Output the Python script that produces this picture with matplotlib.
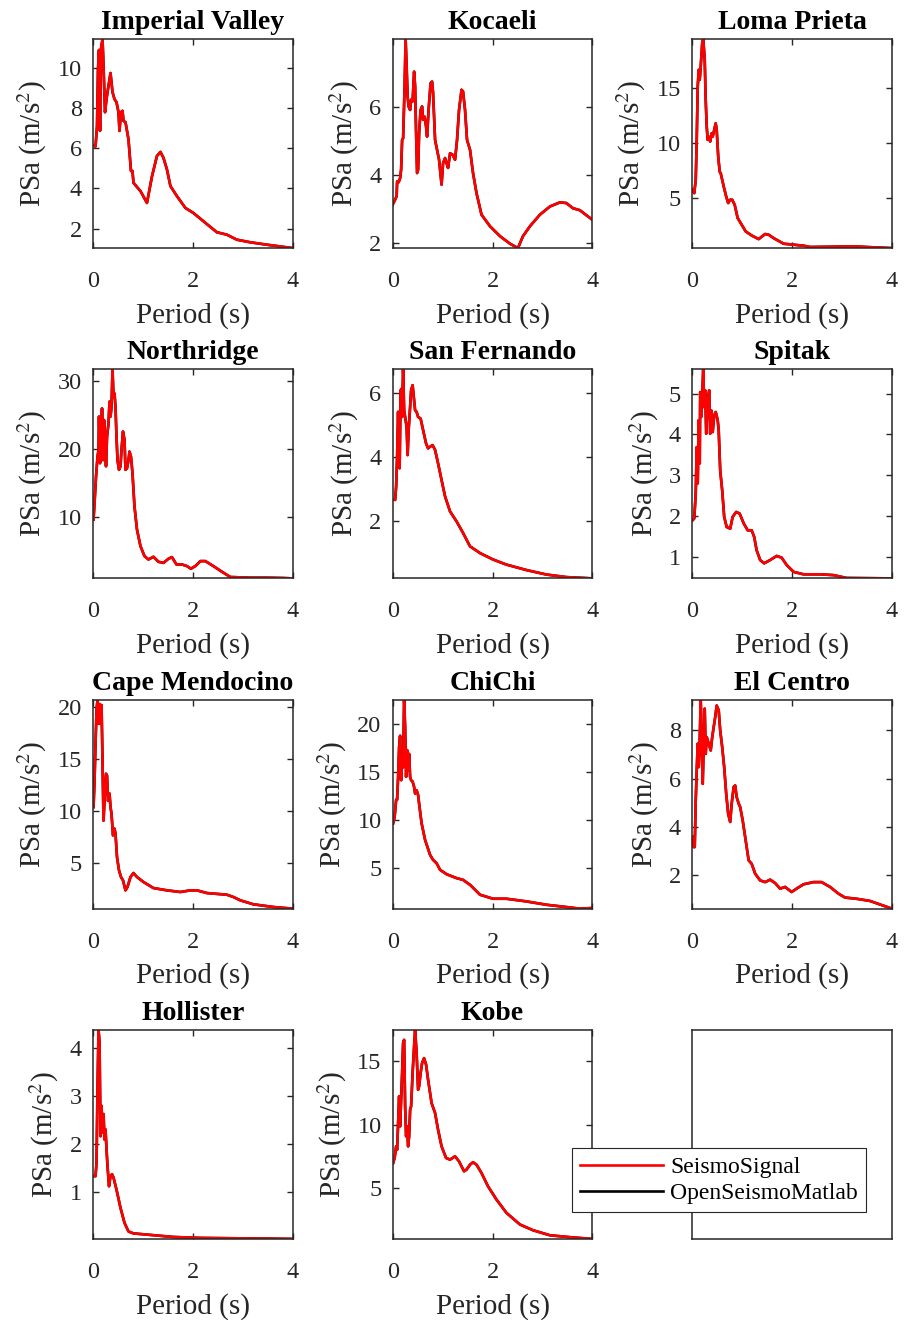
"""
Pseudo-acceleration response spectra: SeismoSignal vs OpenSeismoMatlab
for eleven recorded ground motions.
"""
import matplotlib
matplotlib.use("Agg")
import matplotlib.pyplot as plt

# ---- data (period in s, PSa in m/s^2) -------------------------------------
imperial_T = [0.01, 0.05, 0.08, 0.10, 0.12, 0.14, 0.16, 0.19, 0.21, 0.24, 0.27, 0.29, 0.35, 0.39, 0.43,
              0.47, 0.51, 0.53, 0.56, 0.59, 0.61, 0.65, 0.71, 0.76, 0.79, 0.81, 0.95, 1.08, 1.18, 1.28,
              1.35, 1.41, 1.48, 1.55, 1.68, 1.85, 2.01, 2.21, 2.48, 2.68, 2.88, 3.15, 3.48, 4.00]
imperial_psa = [6.12, 6.10, 7.10, 9.95, 10.9, 6.87, 10.95, 11.45, 10.1, 7.8, 8.45, 8.8, 9.75, 8.8, 8.45,
                8.3, 7.8, 6.87, 7.8, 7.87, 7.37, 7.3, 6.45, 4.87, 4.87, 4.28, 3.87, 3.28, 4.6, 5.62,
                5.82, 5.53, 4.95, 4.12, 3.62, 3.03, 2.78, 2.37, 1.82, 1.7, 1.45, 1.32, 1.2, 1.03]

kocaeli_T = [0.0, 0.05, 0.08, 0.09, 0.12, 0.15, 0.17, 0.19, 0.21, 0.24, 0.26, 0.28, 0.30, 0.32, 0.35,
             0.37, 0.40, 0.43, 0.45, 0.47, 0.49, 0.51, 0.53, 0.56, 0.59, 0.61, 0.64, 0.67, 0.69, 0.72,
             0.76, 0.79, 0.81, 0.85, 0.89, 0.93, 0.98, 1.01, 1.05, 1.08, 1.11, 1.15, 1.20, 1.25, 1.29,
             1.33, 1.38, 1.41, 1.45, 1.49, 1.55, 1.61, 1.68, 1.78, 1.95, 2.15, 2.35, 2.51, 2.61, 2.75,
             2.95, 3.15, 3.35, 3.48, 3.61, 3.75, 4.0]
kocaeli_psa = [3.12, 3.27, 3.37, 3.8, 3.78, 3.9, 4.15, 5.02, 5.07, 6.59, 7.98, 7.17, 6.29, 6.0, 5.9,
               6.2, 6.15, 7.02, 6.59, 5.22, 4.05, 4.15, 5.22, 5.9, 6.0, 5.61, 5.7, 5.41, 5.12, 5.9,
               6.68, 6.73, 6.39, 5.02, 4.73, 4.44, 3.71, 4.34, 4.49, 4.34, 4.2, 4.63, 4.59, 4.44, 5.02,
               5.9, 6.49, 6.44, 5.9, 5.02, 4.73, 4.05, 3.46, 2.83, 2.49, 2.2, 1.98, 1.85, 2.2, 2.49,
               2.83, 3.07, 3.19, 3.17, 3.02, 2.96, 2.68]

loma_T = [0.0, 0.04, 0.07, 0.09, 0.11, 0.13, 0.15, 0.17, 0.20, 0.22, 0.25, 0.27, 0.29, 0.31, 0.33,
          0.36, 0.39, 0.41, 0.44, 0.47, 0.49, 0.52, 0.55, 0.57, 0.63, 0.68, 0.72, 0.76, 0.80, 0.85,
          0.91, 0.97, 1.07, 1.19, 1.33, 1.46, 1.53, 1.63, 1.83, 2.03, 2.23, 2.36, 2.83, 3.23, 3.63, 4.0]
loma_psa = [5.76, 5.45, 6.67, 10.3, 15.15, 16.67, 15.76, 16.97, 19.1, 19.48, 17.6, 13.9, 11.5, 10.3, 10.6,
            10.15, 10.9, 10.6, 11.2, 11.8, 11.2, 8.8, 7.4, 7.27, 6.06, 5.15, 4.55, 4.85, 4.85, 4.39,
            3.18, 2.73, 1.97, 1.6, 1.27, 1.73, 1.67, 1.36, 0.85, 0.76, 0.67, 0.55, 0.58, 0.61, 0.52, 0.45]

northridge_T = [0.01, 0.03, 0.06, 0.09, 0.11, 0.12, 0.14, 0.16, 0.18, 0.20, 0.22, 0.24, 0.26, 0.28, 0.31,
                0.33, 0.35, 0.37, 0.39, 0.41, 0.43, 0.45, 0.47, 0.49, 0.52, 0.55, 0.57, 0.60, 0.63, 0.65,
                0.68, 0.71, 0.73, 0.76, 0.79, 0.83, 0.88, 0.95, 1.03, 1.11, 1.21, 1.31, 1.41, 1.51, 1.58,
                1.67, 1.78, 1.88, 1.96, 2.05, 2.15, 2.25, 2.41, 2.58, 2.75, 3.15, 3.48, 3.81, 4.0]
northridge_psa = [9.66, 12.1, 16.0, 18.9, 19.9, 24.8, 17.95, 19.9, 26.0, 18.4, 24.3, 21.4, 17.5, 21.85, 23.8,
                  27.0, 24.8, 26.2, 31.76, 27.7, 28.2, 26.2, 21.85, 18.4, 16.98, 17.5, 19.9, 22.6, 21.4, 16.98,
                  17.2, 18.4, 19.65, 18.9, 16.5, 11.6, 8.2, 5.76, 4.3, 3.8, 4.2, 3.46, 3.3, 3.9, 4.15,
                  3.07, 3.07, 2.83, 2.44, 2.83, 3.56, 3.56, 2.83, 2.0, 1.22, 1.12, 1.12, 1.07, 1.02]

sanfernando_T = [0.01, 0.05, 0.07, 0.09, 0.11, 0.13, 0.14, 0.16, 0.18, 0.19, 0.21, 0.23, 0.26, 0.28, 0.30,
                 0.32, 0.35, 0.37, 0.40, 0.43, 0.45, 0.48, 0.51, 0.56, 0.61, 0.67, 0.71, 0.75, 0.80, 0.85,
                 0.91, 0.98, 1.05, 1.15, 1.28, 1.41, 1.55, 1.75, 2.01, 2.28, 2.68, 3.08, 3.48, 4.0]
sanfernando_psa = [2.67, 2.65, 3.07, 4.0, 5.4, 3.69, 3.64, 6.07, 6.12, 5.24, 6.73, 5.45, 5.14, 4.93, 4.05,
                   4.83, 5.55, 6.07, 6.23, 5.76, 5.45, 5.4, 5.24, 5.19, 4.83, 4.41, 4.26, 4.31, 4.36, 4.21,
                   3.79, 3.27, 2.76, 2.29, 1.98, 1.62, 1.2, 0.99, 0.79, 0.63, 0.46, 0.32, 0.24, 0.2]

spitak_T = [0.01, 0.04, 0.07, 0.09, 0.11, 0.13, 0.15, 0.16, 0.18, 0.20, 0.22, 0.24, 0.26, 0.28, 0.30,
            0.32, 0.34, 0.36, 0.38, 0.41, 0.44, 0.47, 0.51, 0.53, 0.56, 0.60, 0.64, 0.69, 0.76, 0.81,
            0.88, 0.95, 1.03, 1.11, 1.19, 1.24, 1.29, 1.36, 1.44, 1.56, 1.69, 1.79, 1.89, 2.03, 2.23,
            2.56, 2.83, 3.09, 4.0]
spitak_psa = [1.9, 1.94, 2.55, 3.69, 2.8, 4.35, 3.29, 5.04, 4.43, 4.92, 5.6, 4.67, 5.08, 4.02, 4.59,
              4.92, 5.08, 4.02, 4.59, 4.06, 4.47, 4.55, 4.35, 4.1, 3.12, 2.63, 1.98, 1.73, 1.69, 1.98,
              2.1, 2.06, 1.82, 1.65, 1.65, 1.49, 1.16, 0.92, 0.84, 0.92, 1.02, 0.98, 0.8, 0.63, 0.57,
              0.57, 0.55, 0.48, 0.47]

mendocino_T = [0.01, 0.03, 0.05, 0.07, 0.09, 0.11, 0.13, 0.15, 0.17, 0.19, 0.21, 0.23, 0.26, 0.28, 0.30,
               0.33, 0.35, 0.37, 0.40, 0.43, 0.45, 0.48, 0.52, 0.56, 0.60, 0.65, 0.69, 0.75, 0.81, 0.88,
               1.01, 1.21, 1.48, 1.75, 1.95, 2.08, 2.28, 2.68, 2.81, 2.95, 3.21, 3.61, 4.0]
mendocino_psa = [10.4, 12.96, 16.5, 19.7, 20.73, 18.4, 20.3, 18.4, 20.2, 14.9, 9.1, 11.0, 13.6, 13.44, 11.0,
                 11.7, 10.4, 9.76, 7.69, 8.33, 7.85, 5.6, 4.33, 3.69, 3.37, 2.41, 2.73, 3.69, 4.07, 3.69,
                 3.21, 2.63, 2.41, 2.25, 2.41, 2.41, 2.15, 1.99, 1.77, 1.45, 1.07, 0.81, 0.65]

chichi_T = [0.01, 0.04, 0.07, 0.09, 0.11, 0.13, 0.15, 0.17, 0.19, 0.21, 0.23, 0.25, 0.27, 0.29, 0.31,
            0.33, 0.35, 0.37, 0.40, 0.43, 0.45, 0.48, 0.51, 0.53, 0.58, 0.65, 0.75, 0.81, 0.88, 0.95,
            1.08, 1.28, 1.41, 1.55, 1.75, 2.01, 2.28, 2.68, 3.08, 3.48, 3.75, 4.0]
chichi_psa = [9.63, 10.3, 12.1, 12.1, 14.5, 17.6, 18.8, 14.15, 16.2, 15.5, 22.6, 19.7, 14.5, 17.3, 15.2,
              16.9, 14.5, 14.15, 14.0, 13.45, 12.75, 13.1, 12.6, 11.7, 9.63, 7.89, 6.32, 5.8, 5.45, 4.76,
              4.3, 3.89, 3.71, 3.19, 2.15, 1.73, 1.73, 1.45, 1.1, 0.86, 0.69, 0.76]

elcentro_T = [0.01, 0.03, 0.05, 0.07, 0.09, 0.11, 0.13, 0.15, 0.17, 0.19, 0.21, 0.23, 0.25, 0.27, 0.29,
              0.32, 0.35, 0.37, 0.40, 0.43, 0.46, 0.49, 0.53, 0.56, 0.60, 0.64, 0.68, 0.72, 0.76, 0.79,
              0.83, 0.86, 0.89, 0.93, 0.96, 1.01, 1.07, 1.13, 1.19, 1.26, 1.36, 1.46, 1.56, 1.66, 1.76,
              1.86, 1.99, 2.09, 2.23, 2.43, 2.59, 2.76, 2.93, 3.06, 3.29, 3.56, 4.0]
elcentro_psa = [3.59, 3.17, 3.17, 5.1, 6.34, 7.45, 6.48, 7.59, 9.28, 7.59, 5.79, 7.45, 8.9, 7.03, 7.72,
                7.52, 7.31, 7.17, 7.72, 8.14, 8.55, 9.03, 8.83, 8.0, 7.31, 6.48, 5.38, 4.55, 4.21, 4.97,
                5.66, 5.72, 5.24, 4.97, 4.83, 4.28, 3.45, 2.62, 2.48, 2.07, 1.79, 1.72, 1.82, 1.68, 1.45,
                1.52, 1.31, 1.45, 1.63, 1.72, 1.72, 1.52, 1.24, 1.08, 1.03, 0.94, 0.62]

hollister_T = [0.01, 0.05, 0.07, 0.09, 0.11, 0.13, 0.15, 0.17, 0.19, 0.21, 0.23, 0.25, 0.27, 0.29, 0.32,
               0.35, 0.38, 0.41, 0.47, 0.55, 0.63, 0.71, 0.81, 1.08, 1.35, 1.61, 2.15, 2.81, 3.48, 4.0]
hollister_psa = [1.34, 1.34, 1.62, 3.15, 4.38, 4.12, 2.17, 2.8, 2.24, 2.63, 2.1, 2.31, 1.9, 1.55, 1.13,
                 1.34, 1.38, 1.31, 1.06, 0.68, 0.37, 0.19, 0.15, 0.125, 0.1, 0.076, 0.056, 0.049, 0.042, 0.035]

kobe_T = [0.01, 0.04, 0.07, 0.09, 0.11, 0.13, 0.15, 0.17, 0.19, 0.21, 0.23, 0.25, 0.27, 0.29, 0.31,
          0.33, 0.35, 0.37, 0.40, 0.43, 0.45, 0.48, 0.51, 0.53, 0.56, 0.59, 0.63, 0.67, 0.71, 0.78,
          0.85, 0.91, 0.98, 1.07, 1.15, 1.25, 1.33, 1.43, 1.48, 1.55, 1.61, 1.68, 1.78, 1.91, 2.08,
          2.28, 2.55, 2.81, 3.15, 3.55, 4.0]
kobe_psa = [6.97, 7.37, 8.29, 8.03, 10.13, 12.24, 9.87, 11.97, 14.08, 16.45, 16.7, 11.45, 9.08, 9.87, 8.29,
            9.08, 11.18, 11.45, 14.08, 16.18, 17.5, 15.66, 12.76, 13.03, 14.08, 14.87, 15.26, 14.74, 13.55, 11.71,
            10.92, 9.6, 8.29, 7.37, 7.24, 7.5, 7.1, 6.32, 6.45, 6.84, 7.03, 6.84, 6.18, 5.13, 4.08,
            3.03, 2.11, 1.66, 1.26, 1.11, 0.97]

eq_names = ["Imperial Valley", "Kocaeli", "Loma Prieta", "Northridge", "San Fernando", "Spitak",
            "Cape Mendocino", "ChiChi", "El Centro", "Hollister", "Kobe"]
eq_periods = [imperial_T, kocaeli_T, loma_T, northridge_T, sanfernando_T, spitak_T,
              mendocino_T, chichi_T, elcentro_T, hollister_T, kobe_T]
eq_psa = [imperial_psa, kocaeli_psa, loma_psa, northridge_psa, sanfernando_psa, spitak_psa,
          mendocino_psa, chichi_psa, elcentro_psa, hollister_psa, kobe_psa]
y_ticks = [[2, 4, 6, 8, 10], [2, 4, 6], [5, 10, 15], [10, 20, 30], [2, 4, 6], [1, 2, 3, 4, 5],
           [5, 10, 15, 20], [5, 10, 15, 20], [2, 4, 6, 8], [1, 2, 3, 4], [5, 10, 15]]
x_ticks = [0, 2, 4]
series_labels = ["SeismoSignal", "OpenSeismoMatlab"]
series_colors = ["#ff0000", "#000000"]

# ---- style ----------------------------------------------------------------
INK = "#262626"
plt.rcParams["font.family"] = ["Liberation Serif", "DejaVu Serif"]
plt.rcParams["mathtext.fontset"] = "stix"

fig, axes = plt.subplots(4, 3, figsize=(9.05, 13.2), dpi=100)
fig.subplots_adjust(left=0.1028, right=0.9856, top=0.9705, bottom=0.0614,
                    wspace=0.5, hspace=0.579)

lines = []
for i, ax in enumerate(axes.flat):
    for side in ax.spines.values():
        side.set_color(INK)
        side.set_linewidth(1.1)
    if i >= len(eq_names):
        ax.set_xticks([])
        ax.set_yticks([])
        continue

    T, psa = eq_periods[i], eq_psa[i]
    # OpenSeismoMatlab underneath, SeismoSignal on top (curves coincide)
    l_osm, = ax.plot(T, psa, color=series_colors[1], lw=1.9)
    l_ss, = ax.plot(T, psa, color=series_colors[0], lw=1.9)
    lines = [l_ss, l_osm]

    ax.set_xlim(0, 4)
    ax.set_ylim(min(psa), max(psa))
    ax.set_xticks(x_ticks)
    ax.set_yticks(y_ticks[i])
    ax.tick_params(direction="in", top=True, right=True, length=4, width=1.0,
                   color=INK, labelcolor=INK, labelsize=17.5)
    ax.tick_params(axis="x", pad=16.5)
    ax.tick_params(axis="y", pad=8)
    ax.set_xlabel("Period (s)", fontsize=21, color=INK, labelpad=7)
    ax.set_ylabel(r"PSa (m/s$^2$)", fontsize=21, color=INK, labelpad=6)
    ax.set_title(eq_names[i], fontsize=20, fontweight="bold", pad=7)

leg = fig.legend(lines, series_labels, loc="upper left",
                 bbox_to_anchor=(572 / 905, 1 - 1148 / 1320),
                 fontsize=17, handlelength=3.5, handletextpad=0.3,
                 borderpad=0.35, labelspacing=0.2, borderaxespad=0.0,
                 fancybox=False, framealpha=1.0, edgecolor=INK)
leg.get_frame().set_linewidth(0.8)

fig.savefig("out.png", dpi=100)
